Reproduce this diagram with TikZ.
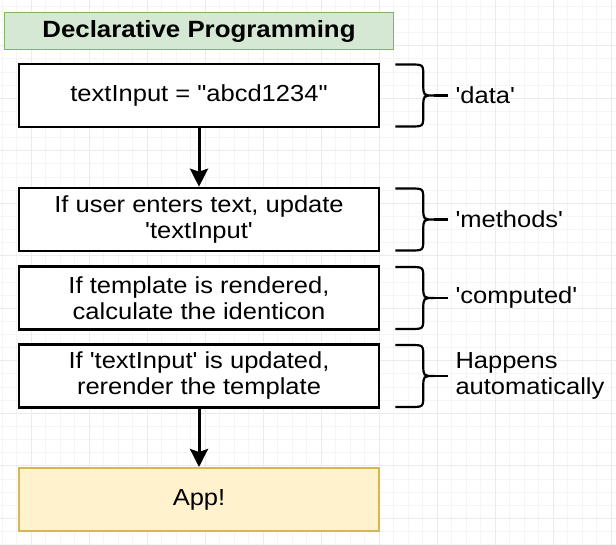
\documentclass[tikz,border=0pt]{standalone}
\usepackage{fontspec}
\setmainfont{Liberation Sans}[Ligatures=TeXOff,FakeStretch=1.1]
\usetikzlibrary{arrows.meta}

\definecolor{hdrfill}{HTML}{D5E8D4}
\definecolor{hdrline}{HTML}{82B366}
\definecolor{appfill}{HTML}{FFF2CC}
\definecolor{appline}{HTML}{D6B656}

\tikzset{
  gridminor/.style={draw=black!4, line width=0.8pt},
  gridmajor/.style={draw=black!8, line width=1pt},
  hdrbox/.style={draw=hdrline, fill=hdrfill, line width=1.3pt, minimum width=389pt, minimum height=37pt, inner sep=0pt, font=\fontsize{23.5}{26}\selectfont\bfseries},
  stepbox/.style={draw=black, fill=white, line width=2.6pt, minimum width=360pt, minimum height=63pt, inner sep=0pt, align=center},
  appbox/.style={stepbox, draw=appline, fill=appfill, line width=2pt},
  flow/.style={line width=3pt, -{Stealth[length=18pt,width=18pt,inset=3pt]}},
  note/.style={anchor=west, inner sep=0pt, align=left},
  curly/.pic={
    \draw[line width=2.2pt] (15,-31) -- (30,-31) .. controls (43,-31) .. (43,-19) -- (43,-11)
      .. controls (43,0) .. (54,0) .. controls (43,0) .. (43,11) -- (43,19)
      .. controls (43,31) .. (30,31) -- (15,31);
    \draw[line width=2.2pt] (54,0) -- (68,0);
  }
}

\begin{document}
\begin{tikzpicture}[x=1pt, y=-1pt, font=\fontsize{23.2}{26}\selectfont]
  \fill[white] (0,0) rectangle (616,545);
  \useasboundingbox (0,0) rectangle (616,545);
  \foreach \gx in {2.3,16.8,...,616} \draw[gridminor] (\gx,0) -- (\gx,545);
  \foreach \gy in {6.4,19.525,...,545} \draw[gridminor] (0,\gy) -- (616,\gy);
  \foreach \gx in {31.3,89.3,...,616} \draw[gridmajor] (\gx,0) -- (\gx,545);
  \foreach \gy in {45.8,98.3,...,545} \draw[gridmajor] (0,\gy) -- (616,\gy);

  \node[hdrbox] (hdr) at (199,31) {Declarative Programming};
  \node[stepbox] (data) at (199,95.5) {textInput = "abcd1234"};
  \node[stepbox] (meth) at (199,219.5) {If user enters text, update\\'textInput'};
  \node[stepbox] (comp) at (199,298) {If template is rendered,\\calculate the identicon};
  \node[stepbox] (rend) at (199,376) {If 'textInput' is updated,\\rerender the template};
  \node[appbox] (app) at (199,499.5) {App!};

  \draw[flow] (data.south) -- (meth.north);
  \draw[flow] (rend.south) -- (app.north);

  \pic at (data.east) {curly};
  \pic at (meth.east) {curly};
  \pic at (comp.east) {curly};
  \pic at (rend.east) {curly};

  \node[note] (ldata) at ([xshift=75pt]data.east) {'data'};
  \node[note] (lmeth) at ([xshift=75pt]meth.east) {'methods'};
  \node[note] (lcomp) at ([xshift=75pt]comp.east) {'computed'};
  \node[note] (lrend) at ([xshift=75pt]rend.east) {Happens\\automatically};
\end{tikzpicture}
\end{document}
